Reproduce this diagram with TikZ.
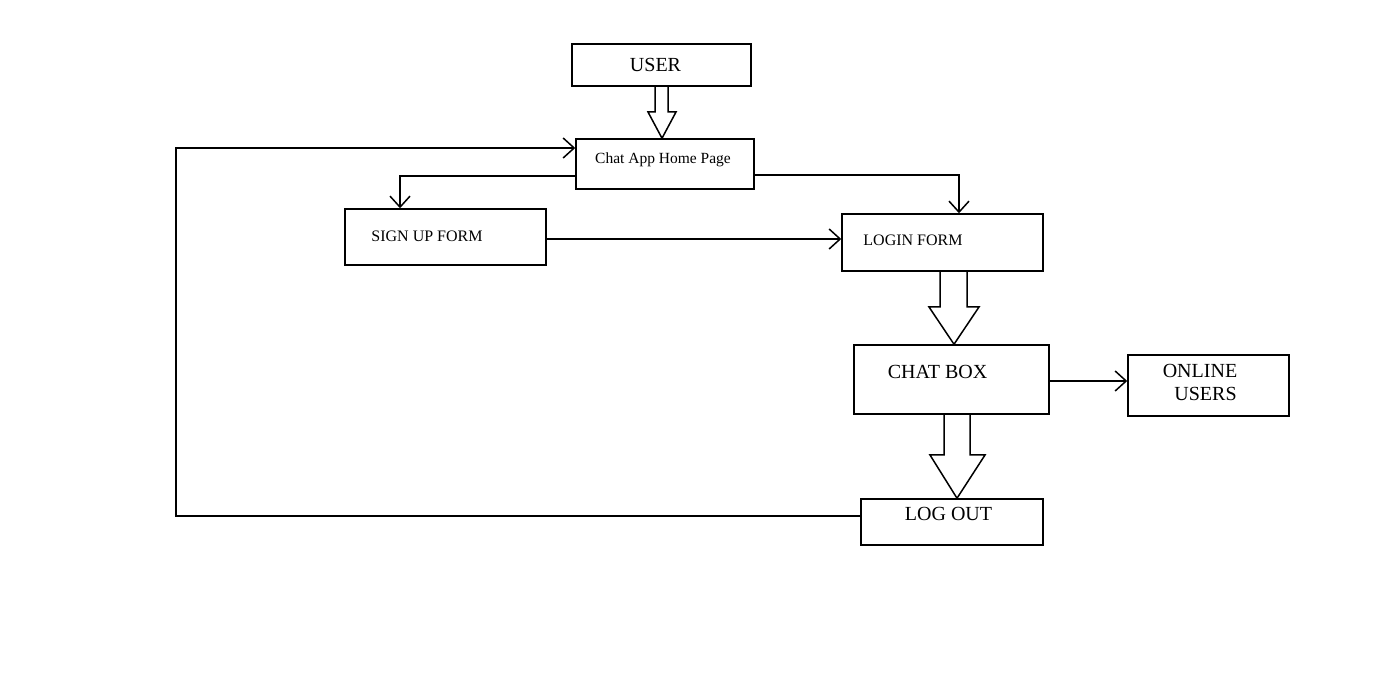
\documentclass[tikz,border=0pt]{standalone}
\usepackage{fontspec}
\setmainfont{Liberation Serif}
\usetikzlibrary{fit,arrows.meta}
\begin{document}
\begin{tikzpicture}[x=0.5pt,y=-0.5pt,
  box/.style={draw,line width=0.75pt,inner sep=0pt},
  lbl/.style={inner sep=0pt,anchor=base},
  big/.style={lbl,font=\fontsize{10pt}{12pt}\selectfont},
  small/.style={lbl,font=\fontsize{8pt}{10pt}\selectfont},
  conn/.style={line width=0.75pt},
  arr/.style={conn,-{Straight Barb[length=5.5pt,width=10pt]}},
  blk/.style={line width=0.75pt,line join=miter}]
\useasboundingbox (0,0) rectangle (1380,699);
\fill[white] (0,0) rectangle (1380,699);

% boxes
\node[box,fit={(572,44)(751,86)}] (user) {};
\node[box,fit={(576,139)(754,189)}] (home) {};
\node[box,fit={(345,209)(546,265)}] (signup) {};
\node[box,fit={(842,214)(1043,271)}] (login) {};
\node[box,fit={(854,345)(1049,414)}] (chat) {};
\node[box,fit={(1128,355)(1289,416)}] (online) {};
\node[box,fit={(861,499)(1043,545)}] (logout) {};

% labels
\node[big] (userT) at (655.5,72) {USER};
\node[lbl,font=\fontsize{7.75pt}{9pt}\selectfont] (homeT) at (663,164) {Chat App Home Page};
\node[small] (signupT) at (427,242) {SIGN UP FORM};
\node[small] (loginT) at (913,246) {LOGIN FORM};
\node[big] (chatT) at (937.5,379) {CHAT BOX};
\node[big] (onlineT1) at (1200,378) {ONLINE};
\node[big] (onlineT2) at (1205.5,400.5) {USERS};
\node[big] (logoutT) at (948.5,520) {LOG OUT};

% block arrows
\draw[blk] (655,0 |- user.south) -- (655,112) -- (648,112) -- (662,0 |- home.north)
  -- (676,112) -- (668,112) -- (668,0 |- user.south);
\draw[blk] (940,0 |- login.south) -- (940,307) -- (929,307) -- (954,0 |- chat.north)
  -- (979,307) -- (967,307) -- (967,0 |- login.south);
\draw[blk] (944,0 |- chat.south) -- (944,455) -- (930,455) -- (957,0 |- logout.north)
  -- (985,455) -- (970,455) -- (970,0 |- chat.south);

% connectors
\draw[arr] (logout.west |- 0,516) -- (176,516) -- (176,148) -- (home.west |- 0,148);
\draw[arr] (home.west |- 0,176) -| (400,0 |- signup.north);
\draw[arr] (home.east |- 0,175) -| (959,0 |- login.north);
\draw[arr] (signup.east |- 0,239) -- (login.west |- 0,239);
\draw[arr] (chat.east |- 0,381) -- (online.west |- 0,381);
\end{tikzpicture}
\end{document}
